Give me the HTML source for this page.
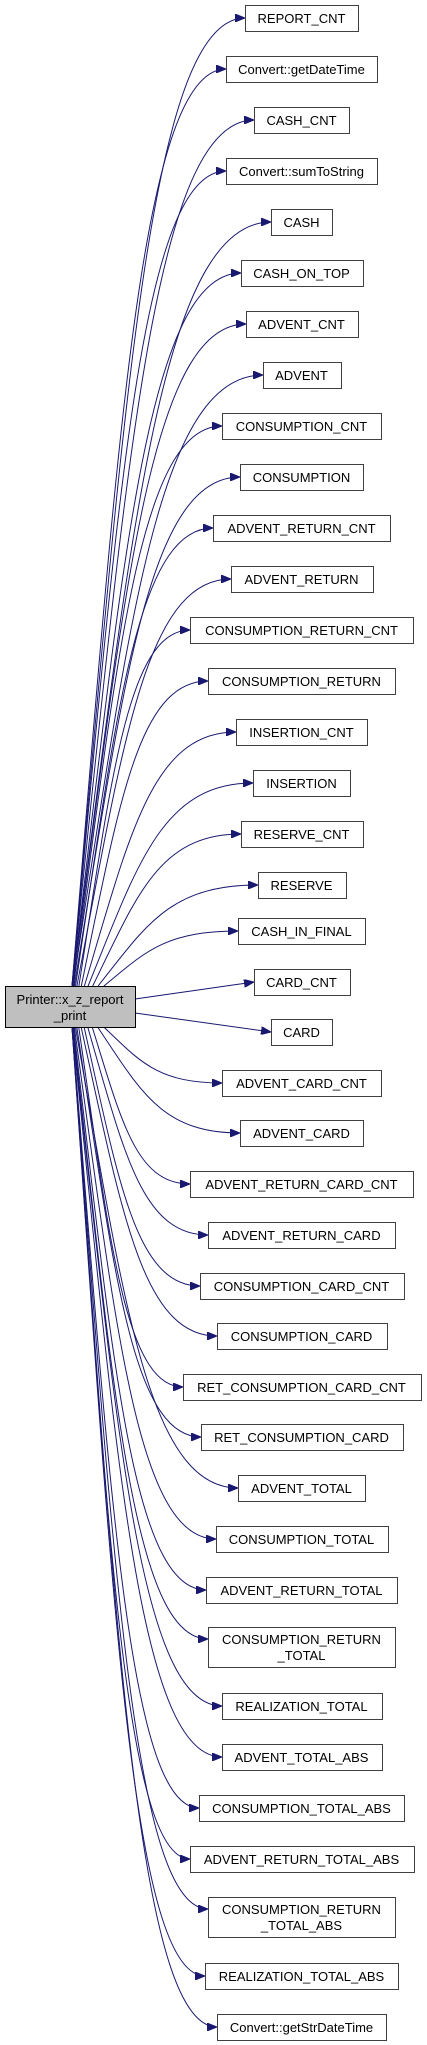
<!DOCTYPE html>
<html><head><meta charset="utf-8"><style>
html,body{margin:0;padding:0;background:#fff;}
svg{display:block;}
text{font-family:"Liberation Sans",Helvetica,Arial,sans-serif;font-size:13px;fill:#000;}
</style></head><body>
<svg id="g" width="427" height="2045" viewBox="0 0 427 2045" xmlns="http://www.w3.org/2000/svg">
<defs>
<marker id="ah" markerWidth="10" markerHeight="8" refX="10" refY="4" orient="auto" markerUnits="userSpaceOnUse">
<path d="M0,0 L10,4 L0,8 Z" fill="#191970" stroke="#191970"/>
</marker>
</defs>
<g id="edges" fill="none" stroke="#191970" stroke-width="1"></g>
<g id="nodes" fill="#fff" stroke="#404040" stroke-width="1">
<rect x="5.5" y="986.5" width="130" height="41" fill="#bfbfbf" stroke="#000"/>
</g>
<text x="70" y="1004" text-anchor="middle">Printer::x_z_report</text>
<text x="70" y="1020" text-anchor="middle">_print</text>
<g text-anchor="middle">
<text x="301.5" y="23">REPORT_CNT</text>
<text x="301.5" y="74">Convert::getDateTime</text>
<text x="301.5" y="125">CASH_CNT</text>
<text x="301.5" y="176">Convert::sumToString</text>
<text x="301.5" y="227">CASH</text>
<text x="301.5" y="278">CASH_ON_TOP</text>
<text x="301.5" y="329">ADVENT_CNT</text>
<text x="301.5" y="380">ADVENT</text>
<text x="301.5" y="431">CONSUMPTION_CNT</text>
<text x="301.5" y="482">CONSUMPTION</text>
<text x="301.5" y="533">ADVENT_RETURN_CNT</text>
<text x="301.5" y="584">ADVENT_RETURN</text>
<text x="301.5" y="635">CONSUMPTION_RETURN_CNT</text>
<text x="301.5" y="686">CONSUMPTION_RETURN</text>
<text x="301.5" y="737">INSERTION_CNT</text>
<text x="301.5" y="788">INSERTION</text>
<text x="301.5" y="839">RESERVE_CNT</text>
<text x="301.5" y="890">RESERVE</text>
<text x="301.5" y="936">CASH_IN_FINAL</text>
<text x="301.5" y="987">CARD_CNT</text>
<text x="301.5" y="1037">CARD</text>
<text x="301.5" y="1088">ADVENT_CARD_CNT</text>
<text x="301.5" y="1138">ADVENT_CARD</text>
<text x="301.5" y="1189">ADVENT_RETURN_CARD_CNT</text>
<text x="301.5" y="1240">ADVENT_RETURN_CARD</text>
<text x="301.5" y="1291">CONSUMPTION_CARD_CNT</text>
<text x="301.5" y="1341">CONSUMPTION_CARD</text>
<text x="301.5" y="1392">RET_CONSUMPTION_CARD_CNT</text>
<text x="301.5" y="1442">RET_CONSUMPTION_CARD</text>
<text x="301.5" y="1493">ADVENT_TOTAL</text>
<text x="301.5" y="1544">CONSUMPTION_TOTAL</text>
<text x="301.5" y="1595">ADVENT_RETURN_TOTAL</text>
<text x="301.5" y="1644">CONSUMPTION_RETURN</text>
<text x="301.5" y="1660">_TOTAL</text>
<text x="301.5" y="1711">REALIZATION_TOTAL</text>
<text x="301.5" y="1762">ADVENT_TOTAL_ABS</text>
<text x="301.5" y="1813">CONSUMPTION_TOTAL_ABS</text>
<text x="301.5" y="1864">ADVENT_RETURN_TOTAL_ABS</text>
<text x="301.5" y="1914">CONSUMPTION_RETURN</text>
<text x="301.5" y="1930">_TOTAL_ABS</text>
<text x="301.5" y="1981">REALIZATION_TOTAL_ABS</text>
<text x="301.5" y="2032">Convert::getStrDateTime</text>
</g>
</svg>
<script>
(function(){
var N=[[5,113],[56,151],[107,95],[158,151],[209,61],[260,122],[311,112],[362,78],[413,159],[464,123],[515,177],[566,142],[617,223],[668,187],[719,131],[770,97],[821,122],[872,88],[918,127],[969,96],[1019,61],[1070,159],[1120,123],[1171,223],[1222,187],[1273,204],[1323,170],[1374,238],[1424,202],[1475,127],[1526,172],[1577,191],[1627,187,40],[1693,160],[1744,160],[1795,205],[1846,224],[1897,187,40],[1963,193],[2014,169]];
var ns="http://www.w3.org/2000/svg";
var G=document.getElementById('nodes'),E=document.getElementById('edges');
function f1(v){return v.toFixed(1);}
N.forEach(function(n){
 var h=n[2]||26,w=n[1],x=301.5-w/2;
 var r=document.createElementNS(ns,'rect');
 r.setAttribute('x',Math.round(x)+0.5);r.setAttribute('y',n[0]+0.5);
 r.setAttribute('width',w);r.setAttribute('height',h);
 G.appendChild(r);
 var ey=n[0]+(n[2]?12:h/2), ex=Math.round(x), d;
 var p=document.createElementNS(ns,'path');
 if(Math.abs(ey-1006)<40){
   var sy=ey<1006?999:1013;
   d='M135,'+sy+' L'+(ex)+','+ey;
 } else {
   var up=ey<1006, sy=up?986:1027, dist=Math.abs(ey-sy);
   var f=Math.pow(1-dist/1000,4), sx=72+40*f;
   var p1x=sx+(ex-sx)*0.3, p1y=sy+(ey-sy)*0.6, p2x=sx+(ex-sx)*0.45;
   d='M'+f1(sx)+','+sy+' C'+f1(p1x)+','+f1(p1y)+' '+f1(p2x)+','+ey+' '+ex+','+ey;
 }
 p.setAttribute('d',d);p.setAttribute('marker-end','url(#ah)');
 E.appendChild(p);
});
})();
</script>
</body></html>
